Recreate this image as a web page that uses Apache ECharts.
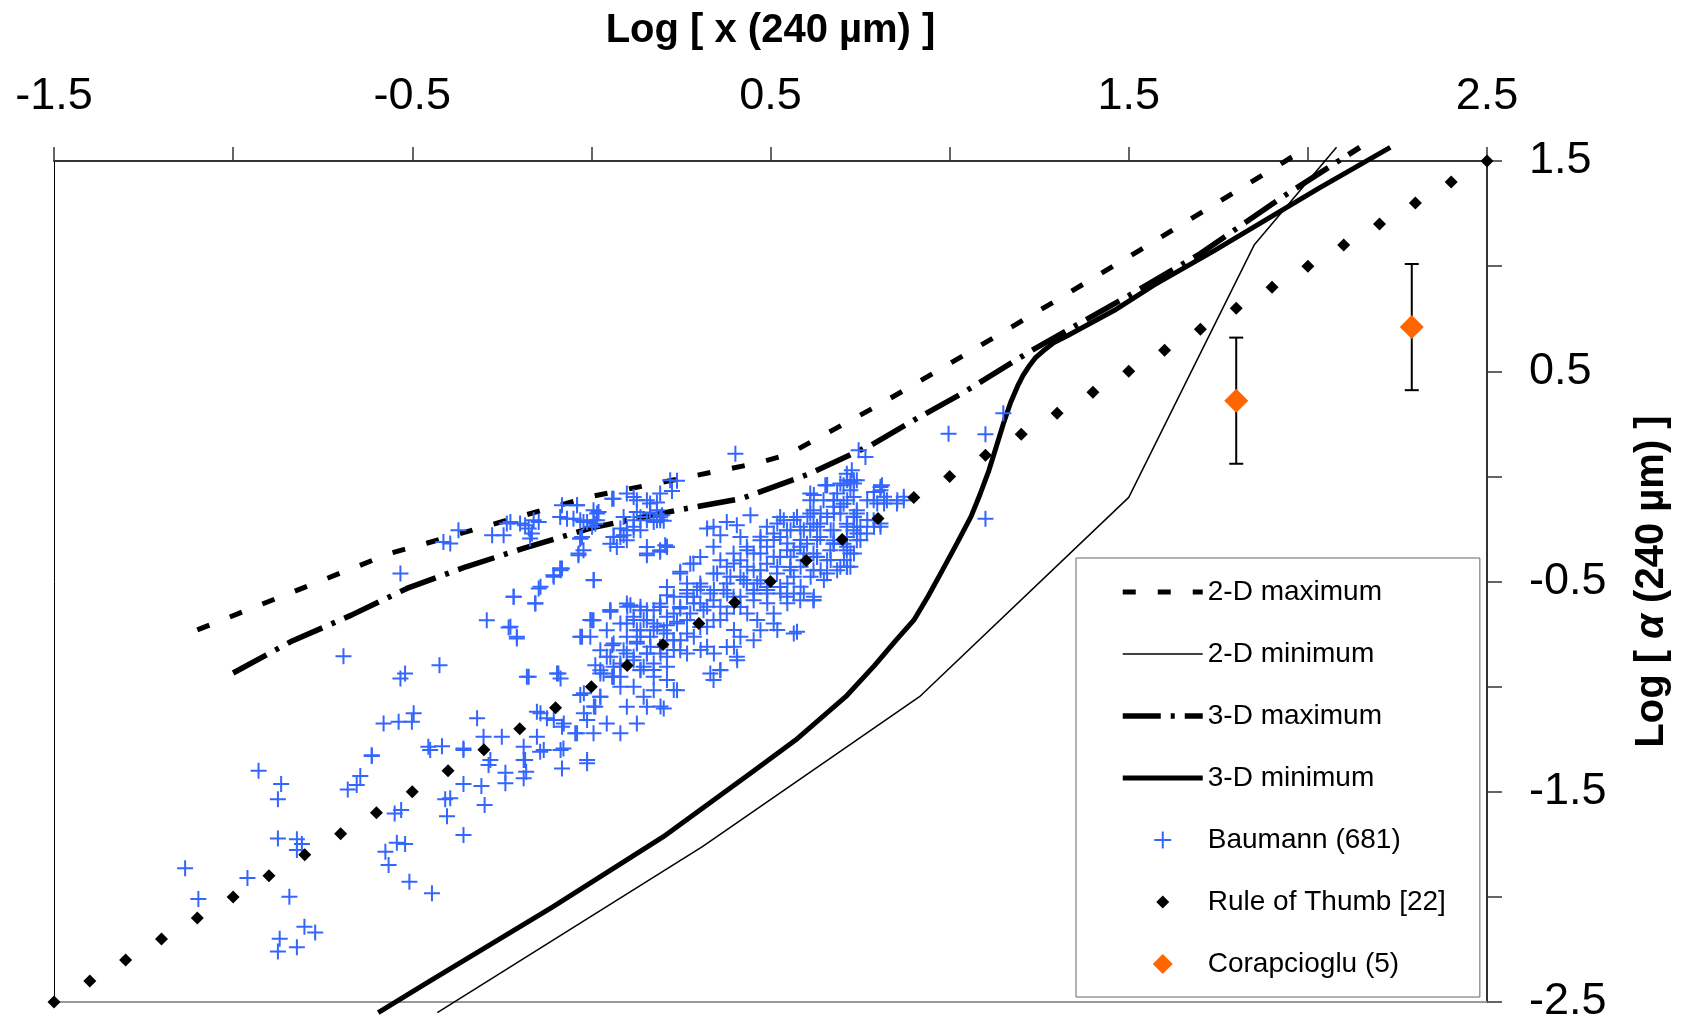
<!DOCTYPE html>
<html><head><meta charset="utf-8">
<script src="https://cdn.jsdelivr.net/npm/echarts@6/dist/echarts.min.js"></script>
<style>html,body{margin:0;padding:0;background:#fff}#c{width:1688px;height:1025px}</style>
</head><body><div id="c"></div>
<script>
const FONT = "'Liberation Sans', Arial, sans-serif";
const xTickLabels = ['-1.5', '-0.5', '0.5', '1.5', '2.5'];
const yTickLabels = ['1.5', '0.5', '-0.5', '-1.5', '-2.5'];
const legendNames = ['2-D maximum', '2-D minimum', '3-D maximum', '3-D minimum', 'Baumann (681)', 'Rule of Thumb [22]', 'Corapcioglu (5)'];

const twoDMax = [[-1.10,-0.73],[-0.56,-0.365],[-0.46,-0.318],[-0.01,-0.099],[0.46,0.062],[0.55,0.105],[0.81,0.347],[1.04,0.576],[1.29,0.829],[1.53,1.075],[1.99,1.555]];
const twoDMin = [[-0.43,-2.55],[0.31,-1.761],[0.916,-1.048],[1.50,-0.10],[1.85,1.10],[2.08,1.565]];
const threeDMax = [[-1.00,-0.935],[-0.84,-0.787],[-0.67,-0.66],[-0.515,-0.533],[-0.35,-0.43],[-0.19,-0.343],[0.0,-0.245],[0.24,-0.161],[0.42,-0.105],[0.61,0.013],[0.78,0.148],[0.90,0.267],[1.04,0.40],[1.23,0.60],[1.50,0.86],[1.70,1.06],[1.93,1.33],[2.145,1.565]];
const threeDMin = [[-0.595,-2.55],[-0.45,-2.40],[-0.11,-2.05],[0.2,-1.715],[0.45,-1.405],[0.57,-1.254],[0.71,-1.048],[0.79,-0.90],[0.85,-0.78],[0.90,-0.684],[0.94,-0.57],[0.98,-0.446],[1.02,-0.32],[1.06,-0.19],[1.085,-0.085],[1.11,0.03],[1.13,0.14],[1.15,0.25],[1.17,0.35],[1.19,0.43],[1.205,0.48],[1.22,0.52],[1.24,0.565],[1.26,0.595],[1.29,0.635],[1.33,0.67],[1.46,0.79],[1.57,0.91],[1.74,1.075],[2.03,1.37],[2.23,1.565]];

const ruleX = [-1.5,-1.4,-1.3,-1.2,-1.1,-1.0,-0.9,-0.8,-0.7,-0.6,-0.5,-0.4,-0.3,-0.2,-0.1,0.0,0.1,0.2,0.3,0.4,0.5,0.6,0.7,0.8,0.9,1.0,1.1,1.2,1.3,1.4,1.5,1.6,1.7,1.8,1.9,2.0,2.1,2.2,2.3,2.4,2.5];
const ruleY = [-2.5,-2.4,-2.3,-2.2,-2.1,-2.0,-1.9,-1.8,-1.7,-1.6,-1.5,-1.4,-1.3,-1.2,-1.1,-1.0,-0.9,-0.8,-0.7,-0.6,-0.5,-0.4,-0.3,-0.2,-0.1,0.0,0.1,0.2,0.3,0.4,0.5,0.6,0.7,0.8,0.9,1.0,1.1,1.2,1.3,1.4,1.5];

const corX = [1.80, 2.29];
const corY = [0.36, 0.71];
const corErr = [0.30, 0.30];

const baumann = [
[-0.929,-1.400],[-0.866,-1.463],[-0.875,-1.536],[-1.134,-1.864],[-1.097,-2.010],[-0.960,-1.910],[-0.875,-1.722],[-0.822,-1.726],[-0.808,-1.749],[-0.822,-1.777],[-0.843,-1.999],[-0.801,-2.142],[-0.771,-2.170],[-0.870,-2.199],[-0.875,-2.260],[-0.822,-2.240],[-0.645,-1.425],[-0.680,-1.489],[-0.655,-1.468],[-0.613,-1.330],[-0.549,-1.603],[-0.531,-1.587],[-0.543,-1.742],[-0.520,-1.749],[-0.575,-1.785],[-0.566,-1.848],[-0.508,-1.928],[-0.445,-1.983],[-0.408,-1.536],[-0.394,-1.531],[-0.403,-1.616],[-0.357,-1.463],[-0.307,-1.473],[-0.298,-1.563],[-0.357,-1.706],[-0.287,-1.373],[-0.240,-1.410],[-0.240,-1.460],[-0.189,-1.436],[-0.185,-1.349],[-0.182,-1.405],[-0.143,-1.310],[-0.450,-1.302],[-0.357,-1.302],[-0.282,-1.349],
[-0.371,-0.256],[-0.413,-0.312],[-0.394,-0.319],[-0.226,-0.217],[-0.277,-0.280],[-0.245,-0.280],[-0.185,-0.232],[-0.147,-0.217],[-0.175,-0.248],[-0.171,-0.296],[-0.082,-0.137],[-0.040,-0.137],[-0.087,-0.193],[-0.068,-0.201],[0.006,-0.161],[-0.022,-0.217],[-0.031,-0.296],[-0.036,-0.367],[-0.533,-0.462],[0.006,-0.494],[-0.082,-0.438],[-0.106,-0.470],[-0.147,-0.533],[-0.217,-0.573],[-0.157,-0.605],[-0.292,-0.684],[-0.231,-0.719],[-0.208,-0.771],[0.002,-0.684],[-0.026,-0.763],[-0.692,-0.855],[-0.520,-0.937],[-0.533,-0.961],[-0.424,-0.898],[-0.175,-0.953],[-0.092,-0.937],[0.011,-0.898],[-0.031,-1.040],[0.011,-1.096],[-0.152,-1.120],[-0.124,-1.151],[-0.082,-1.191],[-0.045,-1.222],[0.006,-1.222],[-0.319,-1.151],[-0.496,-1.127],[-0.538,-1.167],[-0.580,-1.175],[-0.501,-1.167],[-0.301,-1.239],[-0.250,-1.239],[-0.189,-1.286],[-0.152,-1.239],[-0.078,-1.294],[-0.133,-1.302],[-0.082,-1.389],[-0.012,-1.365],[-0.455,-1.286],[-0.417,-1.283],[-0.357,-1.294],[-0.613,-1.326],
[0.239,-0.021],[0.225,-0.069],[0.183,-0.124],[0.164,-0.172],[0.192,-0.195],[0.202,-0.211],[0.174,-0.217],[0.127,-0.114],[0.099,-0.082],[0.058,-0.106],[0.020,-0.169],[0.006,-0.209],[-0.031,-0.209],[-0.040,-0.137],[-0.026,-0.288],[0.062,-0.288],[0.081,-0.248],[0.118,-0.240],[0.099,-0.304],[0.071,-0.336],[0.118,-0.209],[0.155,-0.209],[0.211,-0.336],[0.155,-0.375],[0.192,-0.359],[-0.036,-0.375],[-0.087,-0.438],
[0.053,-0.637],[0.058,-0.803],[0.099,-0.700],[0.109,-0.613],[0.137,-0.637],[0.174,-0.637],[0.155,-0.684],[0.127,-0.732],[0.174,-0.732],[0.211,-0.708],[0.239,-0.692],[0.248,-0.628],[0.267,-0.573],[0.211,-0.565],[0.192,-0.621],[0.248,-0.462],[0.285,-0.414],[0.211,-0.526],[0.267,-0.510],[0.295,-0.541],[0.127,-0.787],[0.099,-0.842],[0.155,-0.842],[0.192,-0.811],[0.229,-0.779],[0.062,-0.906],[0.034,-0.937],[0.058,-0.953],[0.081,-0.953],[0.137,-0.921],[0.174,-0.921],[0.211,-0.969],[0.239,-1.017],[0.174,-1.017],[0.202,-1.104],[0.155,-1.096],[0.099,-1.096],[0.127,-1.175],[0.025,-1.048],[-0.012,-1.159],[0.043,-1.175],[0.081,-1.222],
[0.714,-0.018],[0.733,-0.034],[0.807,-0.050],[0.658,-0.042],[0.621,-0.089],[0.789,-0.074],[0.817,-0.097],[0.677,-0.113],[0.714,-0.113],[0.770,-0.113],[0.798,-0.129],[0.854,-0.113],[0.872,-0.097],[0.817,-0.129],[0.565,-0.208],[0.603,-0.192],[0.640,-0.177],[0.677,-0.177],[0.733,-0.192],[0.770,-0.208],[0.807,-0.224],[0.519,-0.224],[0.556,-0.256],[0.593,-0.256],[0.630,-0.240],[0.668,-0.256],[0.714,-0.240],[0.751,-0.240],[0.789,-0.240],[0.742,-0.272],[0.472,-0.287],[0.509,-0.303],[0.547,-0.319],[0.584,-0.303],[0.630,-0.303],[0.677,-0.319],[0.714,-0.335],[0.751,-0.303],[0.733,-0.367],[0.435,-0.351],[0.472,-0.367],[0.509,-0.382],[0.556,-0.382],[0.593,-0.367],[0.630,-0.382],[0.668,-0.398],[0.705,-0.398],[0.723,-0.430],[0.686,-0.446],[0.398,-0.414],[0.435,-0.430],[0.472,-0.446],[0.519,-0.430],[0.556,-0.446],[0.584,-0.430],[0.640,-0.446],[0.612,-0.478],[0.649,-0.493],[0.351,-0.462],[0.388,-0.478],[0.425,-0.493],[0.463,-0.509],[0.547,-0.509],[0.584,-0.525],[0.565,-0.557],[0.621,-0.573],[0.305,-0.525],[0.342,-0.541],[0.379,-0.557],[0.416,-0.573],[0.453,-0.557],[0.491,-0.541],[0.528,-0.557],[0.547,-0.604],[0.491,-0.604],[0.509,-0.652],[0.267,-0.557],[0.286,-0.604],[0.323,-0.620],[0.360,-0.620],[0.398,-0.620],[0.435,-0.652],[0.463,-0.683],[0.519,-0.731],[0.565,-0.747],[0.193,-0.620],[0.230,-0.652],[0.267,-0.683],[0.323,-0.715],[0.360,-0.683],[0.398,-0.731],[0.416,-0.763],[0.137,-0.620],[0.146,-0.683],[0.184,-0.715],[0.211,-0.747],[0.249,-0.779],[0.286,-0.763],[0.323,-0.810],[0.342,-0.842],[0.398,-0.810],[0.407,-0.874],[0.100,-0.620],[0.118,-0.683],[0.137,-0.763],[0.165,-0.810],[0.193,-0.842],[0.230,-0.826],[0.267,-0.842],[0.305,-0.826],[0.332,-0.937],[0.360,-0.921],[0.053,-0.858],[0.081,-0.905],[0.118,-0.858],[0.146,-0.905],[0.174,-0.953],[0.211,-0.905],[0.230,-1.016],[0.025,-0.937],[0.062,-0.953],[0.081,-1.000],[0.118,-1.000],[0.146,-1.048],[0.193,-1.095],[-0.021,-1.032],[0.007,-1.095],[0.025,-1.048],[-0.021,-1.127],
[-0.217,-0.573],[-0.156,-0.604],[-0.142,-0.525],[-0.105,-0.478],[-0.086,-0.446],[0.007,-0.493],[-0.003,-0.683],[-0.031,-0.763],[-0.226,-0.715],[-0.208,-0.763],[0.053,-0.644],[-0.180,-0.953],[-0.096,-0.937],[-0.086,-0.961],[-0.142,-1.127],[-0.105,-1.159],[-0.077,-1.175],[-0.040,-1.222],[-0.086,-1.301],[-0.012,-1.349],[-0.189,-1.349],
[-0.236,-0.224],[-0.199,-0.224],[-0.161,-0.209],[-0.166,-0.272],[-0.050,-0.201],[-0.031,-0.296],[0.002,-0.240],[0.016,-0.209],[0.062,-0.106],[0.062,-0.288],[0.090,-0.280],[0.118,-0.256],[0.137,-0.193],[0.164,-0.129],[0.183,-0.161],[0.192,-0.209],[0.155,-0.336],[0.206,-0.328],[0.402,0.108],[0.746,0.124],[0.765,0.092],[0.997,0.203],[1.100,0.200],[1.100,-0.201],[1.150,0.300],
[0.727,0.029],[0.723,-0.026],[0.653,-0.042],[0.704,-0.042],[0.741,-0.018],[0.811,-0.042],[0.807,-0.066],[0.788,-0.113],[0.825,-0.113],[0.853,-0.129],[0.872,-0.113],[0.611,-0.113],[0.676,-0.113],[0.620,-0.161],[0.695,-0.145],[0.741,-0.177],[0.788,-0.209],[0.807,-0.240],[0.769,-0.272],[0.732,-0.256],[0.639,-0.224],[0.611,-0.256],[0.676,-0.304],[0.723,-0.367],[0.714,-0.430],[0.658,-0.462],[0.620,-0.589],[0.593,-0.557],
[0.220,-0.019],[0.192,-0.082],[0.155,-0.114],[0.118,-0.098],[0.090,-0.193],[0.127,-0.169],[0.164,-0.177],[0.183,-0.209],[0.197,-0.185],[0.211,-0.335],[0.192,-0.351],[0.155,-0.367],[0.137,-0.256],[0.099,-0.256],[0.081,-0.288],[0.053,-0.320],[0.016,-0.177],[-0.012,-0.217],[0.011,-0.225],[-0.022,-0.351],
[0.341,-0.240],[0.378,-0.217],[0.406,-0.232],[0.444,-0.185],[0.360,-0.280],[0.323,-0.248],[0.304,-0.383],[0.276,-0.415],[0.248,-0.454],[0.341,-0.335],[0.537,-0.209],[0.574,-0.193],[0.611,-0.177],[0.648,-0.114],[0.658,-0.042],[0.611,-0.082],[0.713,0.013],[0.732,-0.019],[0.723,-0.066],[0.686,-0.082],[0.704,-0.130],[0.741,-0.161],[0.741,-0.240],[0.527,-0.288],[0.490,-0.335],[0.453,-0.367],[0.416,-0.399],[0.378,-0.430],[0.341,-0.462],[0.304,-0.510],[0.267,-0.541],[0.230,-0.573],[0.192,-0.605],[0.155,-0.637],[0.118,-0.668],[0.081,-0.700],[0.043,-0.732],[0.546,-0.351],[0.583,-0.335],[0.620,-0.367],[0.658,-0.399],[0.695,-0.430],[0.620,-0.446],[0.565,-0.478],[0.527,-0.526],[0.490,-0.557],[0.453,-0.589],[0.416,-0.621],[0.378,-0.652],[0.341,-0.684],[0.304,-0.716],[0.267,-0.747],[0.230,-0.779],[0.192,-0.811],[0.155,-0.842],[0.118,-0.874],[0.583,-0.589],[0.546,-0.573],[0.620,-0.589],[0.574,-0.739],[0.509,-0.700],[0.472,-0.732],[0.453,-0.779],[0.406,-0.858],[0.378,-0.811],[0.360,-0.922],[0.341,-0.969],[0.248,-0.827],[0.211,-0.858],[0.174,-0.890],[0.137,-0.922],[0.062,-0.953],[0.025,-0.922],[0.053,-0.637],[0.099,-0.605],[-0.003,-0.763],[0.006,-0.684],[0.713,-0.288],[0.676,-0.320],[0.713,-0.351],[0.741,-0.304],[0.713,-0.430],
[0.360,-0.399],[0.397,-0.367],[0.434,-0.335],[0.472,-0.304],[0.509,-0.272],[0.546,-0.256],[0.583,-0.240],[0.620,-0.225],[0.658,-0.193],[0.695,-0.177],[0.378,-0.510],[0.416,-0.478],[0.453,-0.446],[0.490,-0.415],[0.527,-0.383],[0.565,-0.351],[0.602,-0.320],[0.639,-0.288],[0.676,-0.256],[0.713,-0.225],[0.332,-0.557],[0.369,-0.541],[0.434,-0.510],[0.472,-0.494],[0.518,-0.462],[0.555,-0.431],[0.592,-0.399],[0.630,-0.383],[0.667,-0.351],[0.704,-0.320],[0.304,-0.605],[0.341,-0.589],[0.397,-0.573],[0.453,-0.541],[0.490,-0.526],[0.276,-0.652],[0.313,-0.637],[0.239,-0.700],[0.202,-0.732],[0.164,-0.763],[0.127,-0.795],[0.090,-0.827],[0.081,-0.890],[0.043,-0.858],[0.285,-0.573],[0.248,-0.621],[0.211,-0.668],[0.174,-0.700],[0.137,-0.732],[0.099,-0.763],[0.062,-0.795],[0.025,-0.827],[0.732,-0.193],[0.732,-0.098],[0.695,-0.034],[0.676,-0.145],[0.527,-0.193],[0.490,-0.240],[0.416,-0.288]
];

const crossPath = 'path://M0,7h16v2h-16zM7,0h2v16h-2z';

function tickFmt(list) {
  return function (v) {
    const s = String(Math.round(v * 10) / 10);
    return list.indexOf(s) >= 0 ? s : '';
  };
}

const hideSym = { opacity: 0 };

const chart = echarts.init(document.getElementById('c'), null, { renderer: 'canvas' });
chart.setOption({
  backgroundColor: '#ffffff',
  animation: false,
  grid: { left: 54, right: 201, top: 161, bottom: 23 },
  xAxis: [
    {
      type: 'value', position: 'top', min: -1.5, max: 2.5, interval: 0.5,
      axisLine: { onZero: false, lineStyle: { color: '#333', width: 2 } },
      axisTick: { inside: false, length: 14, lineStyle: { color: '#333', width: 1.5 } },
      axisLabel: { formatter: tickFmt(xTickLabels), fontSize: 45, color: '#000', margin: 42, fontFamily: FONT, showMinLabel: true, showMaxLabel: true },
      splitLine: { show: false },
      name: 'Log [ x (240 µm) ]', nameLocation: 'middle', nameGap: 110,
      nameTextStyle: { fontSize: 40, fontWeight: 'bold', color: '#000', fontFamily: FONT }
    },
    {
      type: 'value', position: 'bottom', min: -1.5, max: 2.5, interval: 0.5,
      axisLine: { onZero: false, lineStyle: { color: '#999', width: 2 } },
      axisTick: { show: false }, axisLabel: { show: false }, splitLine: { show: false }
    }
  ],
  yAxis: [
    {
      type: 'value', position: 'right', min: -2.5, max: 1.5, interval: 0.5,
      axisLine: { onZero: false, lineStyle: { color: '#333', width: 2 } },
      axisTick: { inside: false, length: 15, lineStyle: { color: '#333', width: 1.5 } },
      axisLabel: { formatter: tickFmt(yTickLabels), fontSize: 45, color: '#000', margin: 42, fontFamily: FONT, showMinLabel: true, showMaxLabel: true },
      splitLine: { show: false },
      name: 'Log [ {i|α} (240 µm) ]', nameLocation: 'middle', nameRotate: 90, nameGap: 145,
      nameTextStyle: {
        fontSize: 40, fontWeight: 'bold', color: '#000', fontFamily: FONT,
        rich: { i: { fontSize: 40, fontWeight: 'bold', fontStyle: 'italic', color: '#000', fontFamily: FONT } }
      }
    },
    {
      type: 'value', position: 'left', min: -2.5, max: 1.5, interval: 0.5,
      axisLine: { onZero: false, lineStyle: { color: '#000', width: 1 } },
      axisTick: { show: false }, axisLabel: { show: false }, splitLine: { show: false }
    }
  ],
  legend: {
    orient: 'vertical', left: 1076, top: 558,
    padding: [20, 34, 19, 44],
    itemWidth: 80, itemHeight: 20, itemGap: 34,
    borderColor: '#666', borderWidth: 1, backgroundColor: '#fff',
    selectedMode: false,
    textStyle: { fontSize: 28, color: '#000', fontFamily: FONT },
    lineStyle: { width: 'inherit' },
    data: [
      { name: legendNames[0], itemStyle: hideSym },
      { name: legendNames[1], itemStyle: hideSym },
      { name: legendNames[2], itemStyle: hideSym },
      { name: legendNames[3], itemStyle: hideSym },
      { name: legendNames[4], icon: 'path://M0,0M20,20M1.5,9h17v2h-17zM9,1.5h2v17h-2z' },
      { name: legendNames[5], icon: 'path://M0,0M20,20M10,3.5L16.5,10L10,16.5L3.5,10Z' },
      { name: legendNames[6], icon: 'path://M10,0L20,10L10,20L0,10Z' }
    ]
  },
  series: [
    { name: legendNames[0], type: 'line', data: twoDMax, symbol: 'none', clip: false, z: 2,
      lineStyle: { color: '#000', width: 5, type: [13, 22], cap: 'butt' }, itemStyle: { color: '#000' } },
    { name: legendNames[1], type: 'line', data: twoDMin, symbol: 'none', clip: false, z: 2,
      lineStyle: { color: '#000', width: 1.5 }, itemStyle: { color: '#000' } },
    { name: legendNames[2], type: 'line', data: threeDMax, symbol: 'none', clip: false, z: 2,
      lineStyle: { color: '#000', width: 5.5, type: [38, 10, 4, 10], cap: 'butt' }, itemStyle: { color: '#000' } },
    { name: legendNames[3], type: 'line', data: threeDMin, symbol: 'none', clip: false, z: 2,
      lineStyle: { color: '#000', width: 5, join: 'round' }, itemStyle: { color: '#000' } },
    { name: legendNames[4], type: 'scatter', data: baumann, symbol: crossPath, symbolSize: 16, z: 3,
      itemStyle: { color: '#3366FF', opacity: 1 } },
    { name: legendNames[5], type: 'scatter', data: ruleX.map((x, i) => [x, ruleY[i]]), symbol: 'diamond', symbolSize: 13, z: 4, clip: false,
      itemStyle: { color: '#000', opacity: 1 } },
    { name: 'errorbars', type: 'custom', z: 5, clip: false,
      data: corX.map((x, i) => [x, corY[i], corErr[i]]),
      encode: { x: 0, y: 1 },
      renderItem: function (params, api) {
        const x = api.value(0), y = api.value(1), e = api.value(2);
        const top = api.coord([x, y + e]), bot = api.coord([x, y - e]);
        const hw = 7, st = { stroke: '#000', lineWidth: 2 };
        return { type: 'group', children: [
          { type: 'line', shape: { x1: top[0], y1: top[1], x2: bot[0], y2: bot[1] }, style: st },
          { type: 'line', shape: { x1: top[0] - hw, y1: top[1], x2: top[0] + hw, y2: top[1] }, style: st },
          { type: 'line', shape: { x1: bot[0] - hw, y1: bot[1], x2: bot[0] + hw, y2: bot[1] }, style: st }
        ] };
      }
    },
    { name: legendNames[6], type: 'scatter', data: corX.map((x, i) => [x, corY[i]]), symbol: 'diamond', symbolSize: 24, z: 6,
      itemStyle: { color: '#FF6600', opacity: 1 } }
  ]
});
</script>
</body></html>
